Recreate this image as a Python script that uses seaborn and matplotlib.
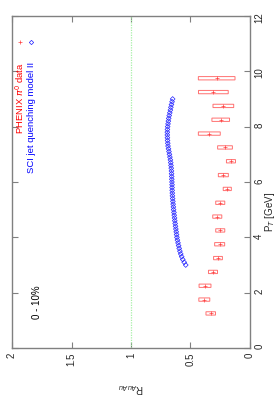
import matplotlib
matplotlib.use("Agg")
import matplotlib.pyplot as plt
import seaborn as sns
import pandas as pd
from matplotlib.patches import Rectangle

# PHENIX pi0 data (0-10%)
pt_data = [1.25, 1.75, 2.25, 2.75, 3.25, 3.75, 4.25, 4.75, 5.25,
           5.75, 6.25, 6.75, 7.25, 7.75, 8.25, 8.75, 9.25, 9.75]
raa_data = [0.330, 0.384, 0.378, 0.311, 0.269, 0.255, 0.250, 0.275, 0.250,
            0.191, 0.224, 0.160, 0.210, 0.342, 0.246, 0.224, 0.308, 0.280]
raa_sys = [0.040, 0.046, 0.050, 0.038, 0.037, 0.042, 0.038, 0.038, 0.038,
           0.034, 0.042, 0.038, 0.062, 0.092, 0.074, 0.087, 0.125, 0.154]

# SCI jet quenching model II
pt_model = [3.0, 3.1, 3.2, 3.3, 3.4, 3.5, 3.6, 3.7, 3.8, 3.9,
            4.0, 4.1, 4.2, 4.3, 4.4, 4.5, 4.6, 4.7, 4.8, 4.9,
            5.0, 5.1, 5.2, 5.3, 5.4, 5.5, 5.6, 5.7, 5.8, 5.9,
            6.0, 6.1, 6.2, 6.3, 6.4, 6.5, 6.6, 6.7, 6.8, 6.9,
            7.0, 7.1, 7.2, 7.3, 7.4, 7.5, 7.6, 7.7, 7.8, 7.9,
            8.0, 8.1, 8.2, 8.3, 8.4, 8.5, 8.6, 8.7, 8.8, 8.9, 9.0]
raa_model = [0.540, 0.553, 0.565, 0.574, 0.582, 0.589, 0.595, 0.600, 0.605, 0.610,
             0.614, 0.617, 0.620, 0.623, 0.626, 0.629, 0.632, 0.634, 0.637, 0.639,
             0.642, 0.644, 0.646, 0.648, 0.650, 0.652, 0.653, 0.654, 0.655, 0.655,
             0.656, 0.657, 0.658, 0.659, 0.660, 0.662, 0.664, 0.666, 0.669, 0.673,
             0.677, 0.681, 0.685, 0.689, 0.691, 0.693, 0.694, 0.695, 0.695, 0.694,
             0.692, 0.689, 0.686, 0.683, 0.679, 0.674, 0.669, 0.665, 0.660, 0.655, 0.650]

raa_ticks = [0, 0.5, 1, 1.5, 2]
raa_ticklabels = ["0", "0.5", "1", "1.5", "2"]
pt_ticks = [0, 2, 4, 6, 8, 10, 12]

df_data = pd.DataFrame({"pt": pt_data, "raa": raa_data, "sys": raa_sys})
df_model = pd.DataFrame({"pt": pt_model, "raa": raa_model})

sns.set_style("white")
plt.rcParams["font.family"] = ["Liberation Sans", "DejaVu Sans"]

fig = plt.figure(figsize=(2.8, 4.0), dpi=100)
ax = fig.add_axes([12 / 280, 52 / 400, 238 / 280, 332 / 400])

# rotated plot: R_AuAu runs right-to-left, pT bottom-to-top
ax.axvline(1, color="#a8f0a8", linestyle=(0, (1, 1)), linewidth=0.9)

for _, r in df_data.iterrows():
    ax.add_patch(Rectangle((r["raa"] - r["sys"], r["pt"] - 0.06), 2 * r["sys"], 0.12,
                           fill=False, edgecolor="#ff7070", linewidth=0.7, snap=False))

sns.scatterplot(data=df_data, x="raa", y="pt", marker="+", color="#ff4040",
                s=8, linewidth=0.5, ax=ax, legend=False)
sns.scatterplot(data=df_model, x="raa", y="pt", marker="D", facecolor="none",
                edgecolor="#2020ff", s=6, linewidth=0.5, ax=ax, legend=False)

ax.set_xlim(2, 0)
ax.set_ylim(0, 12)
ax.set_xticks(raa_ticks)
ax.set_xticklabels(raa_ticklabels)
ax.set_yticks(pt_ticks)
ax.yaxis.tick_right()
ax.tick_params(axis="both", direction="in", length=4, width=0.8, color="#808080",
               labelsize=7, top=True, bottom=True, left=True, right=True,
               labelrotation=90, pad=3)
ax.set_xlabel("")
ax.set_ylabel("")
for s in ax.spines.values():
    s.set_color("#808080")
    s.set_linewidth(1.0)

# legend (rotated)
ax.plot([1.93], [11.06], marker="+", color="#ff4040", markersize=3.5, markeredgewidth=0.5)
ax.plot([1.84], [11.06], marker="D", markerfacecolor="none", markeredgecolor="#2020ff",
        markersize=2.2, markeredgewidth=0.5)
ax.text(1.935, 10.34, "PHENIX $\\pi^0$ data", color="red", fontsize=6.8, rotation=90,
        rotation_mode="anchor", ha="right", va="center")
ax.text(1.84, 10.34, "SCI jet quenching model II", color="blue", fontsize=6.8, rotation=90,
        rotation_mode="anchor", ha="right", va="center")
ax.text(1.786, 1.66, "0 - 10%", color="black", fontsize=7, rotation=90,
        ha="center", va="center")

fig.text(270 / 280, 1 - 212 / 400, "P$_T$ [GeV]", fontsize=7, rotation=90,
         ha="center", va="center")
fig.text(131 / 280, 1 - 388 / 400, "R$_{AuAu}$", fontsize=7, rotation=180,
         ha="center", va="center")

fig.savefig("out.png", dpi=100)
